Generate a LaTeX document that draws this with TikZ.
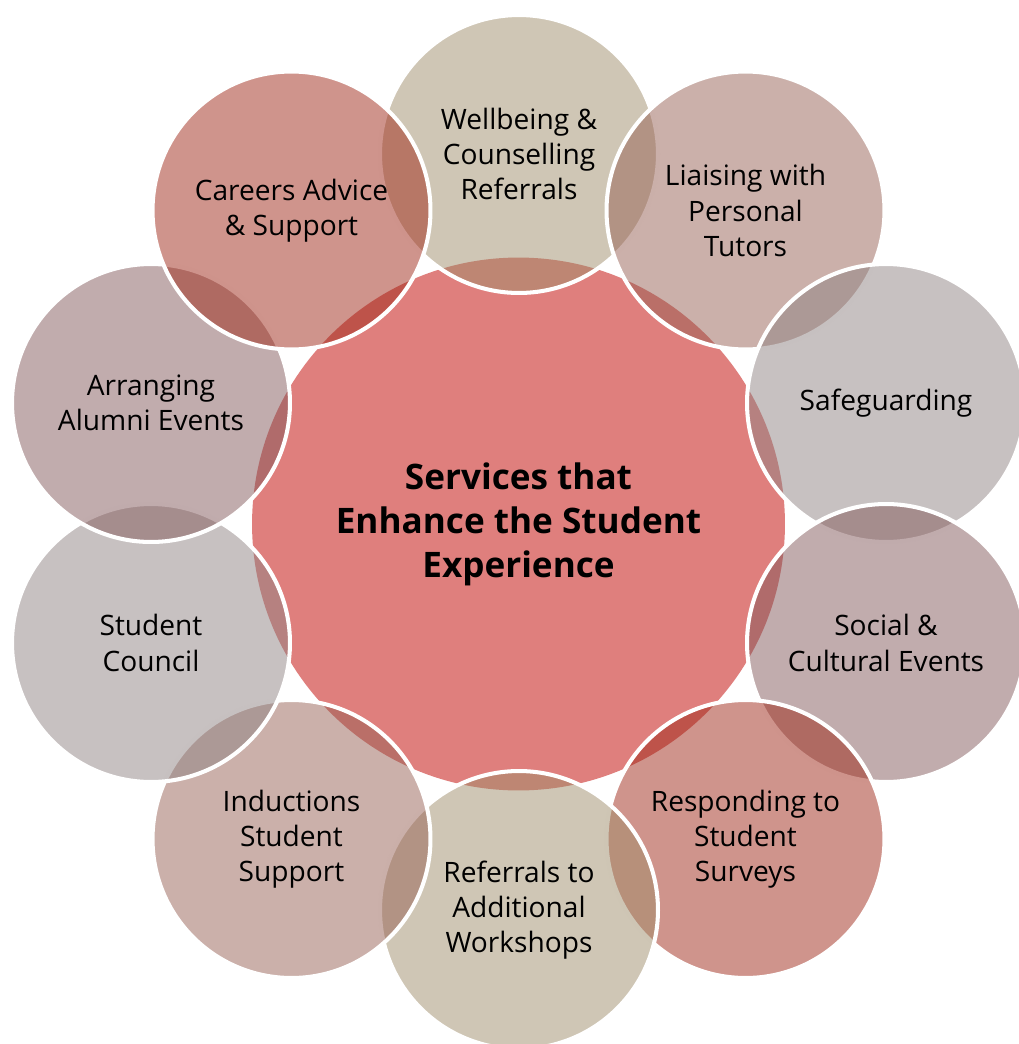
\documentclass[tikz,border=0pt]{standalone}
\usepackage{fontspec}
\setmainfont{Open Sans}

\definecolor{hubred}{RGB}{223,127,125}
\definecolor{sand}{RGB}{159,141,107}
\definecolor{rosegrey}{RGB}{151,97,85}
\definecolor{ash}{RGB}{143,131,131}
\definecolor{mauve}{RGB}{131,89,91}
\definecolor{brick}{RGB}{159,41,25}

\begin{document}
\begin{tikzpicture}[
    x=0.02cm, y=-0.02cm,
    hub/.style={circle, fill=hubred, minimum size=10.66cm, inner sep=0pt,
                align=center, font=\fontsize{20}{25}\selectfont\bfseries},
    bubble/.style={circle, draw=white, line width=2.3pt, fill opacity=0.5,
                   text opacity=1, minimum size=5.56cm, inner sep=0pt,
                   align=center, font=\fontsize{16}{20}\selectfont}
  ]
  \useasboundingbox (0,0) rectangle (1018,1044);

  \node[hub] (hub) at (518.5,524)
    {Services that\\Enhance the Student\\Experience};

  % ring of services, clockwise from the top
  \foreach \name/\x/\y/\col/\txt in {
      wellbeing/519/154/sand/{Wellbeing \&\\Counselling\\Referrals},
      tutors/745.5/210.5/rosegrey/{Liaising with\\Personal\\Tutors},
      safeguard/886/403/ash/{Safeguarding},
      social/886/643/mauve/{Social \&\\Cultural Events},
      surveys/745.5/839/brick/{Responding to\\Student\\Surveys},
      workshops/519/910/sand/{Referrals to\\Additional\\Workshops},
      inductions/291.5/839/rosegrey/{Inductions\\Student\\Support},
      council/151/643/ash/{Student\\Council},
      alumni/151/403/mauve/{Arranging\\Alumni Events},
      careers/291.5/210.5/brick/{Careers Advice\\\& Support}} {
    \node[bubble, fill=\col] (\name) at (\x,\y) {\txt};
  }
\end{tikzpicture}
\end{document}
